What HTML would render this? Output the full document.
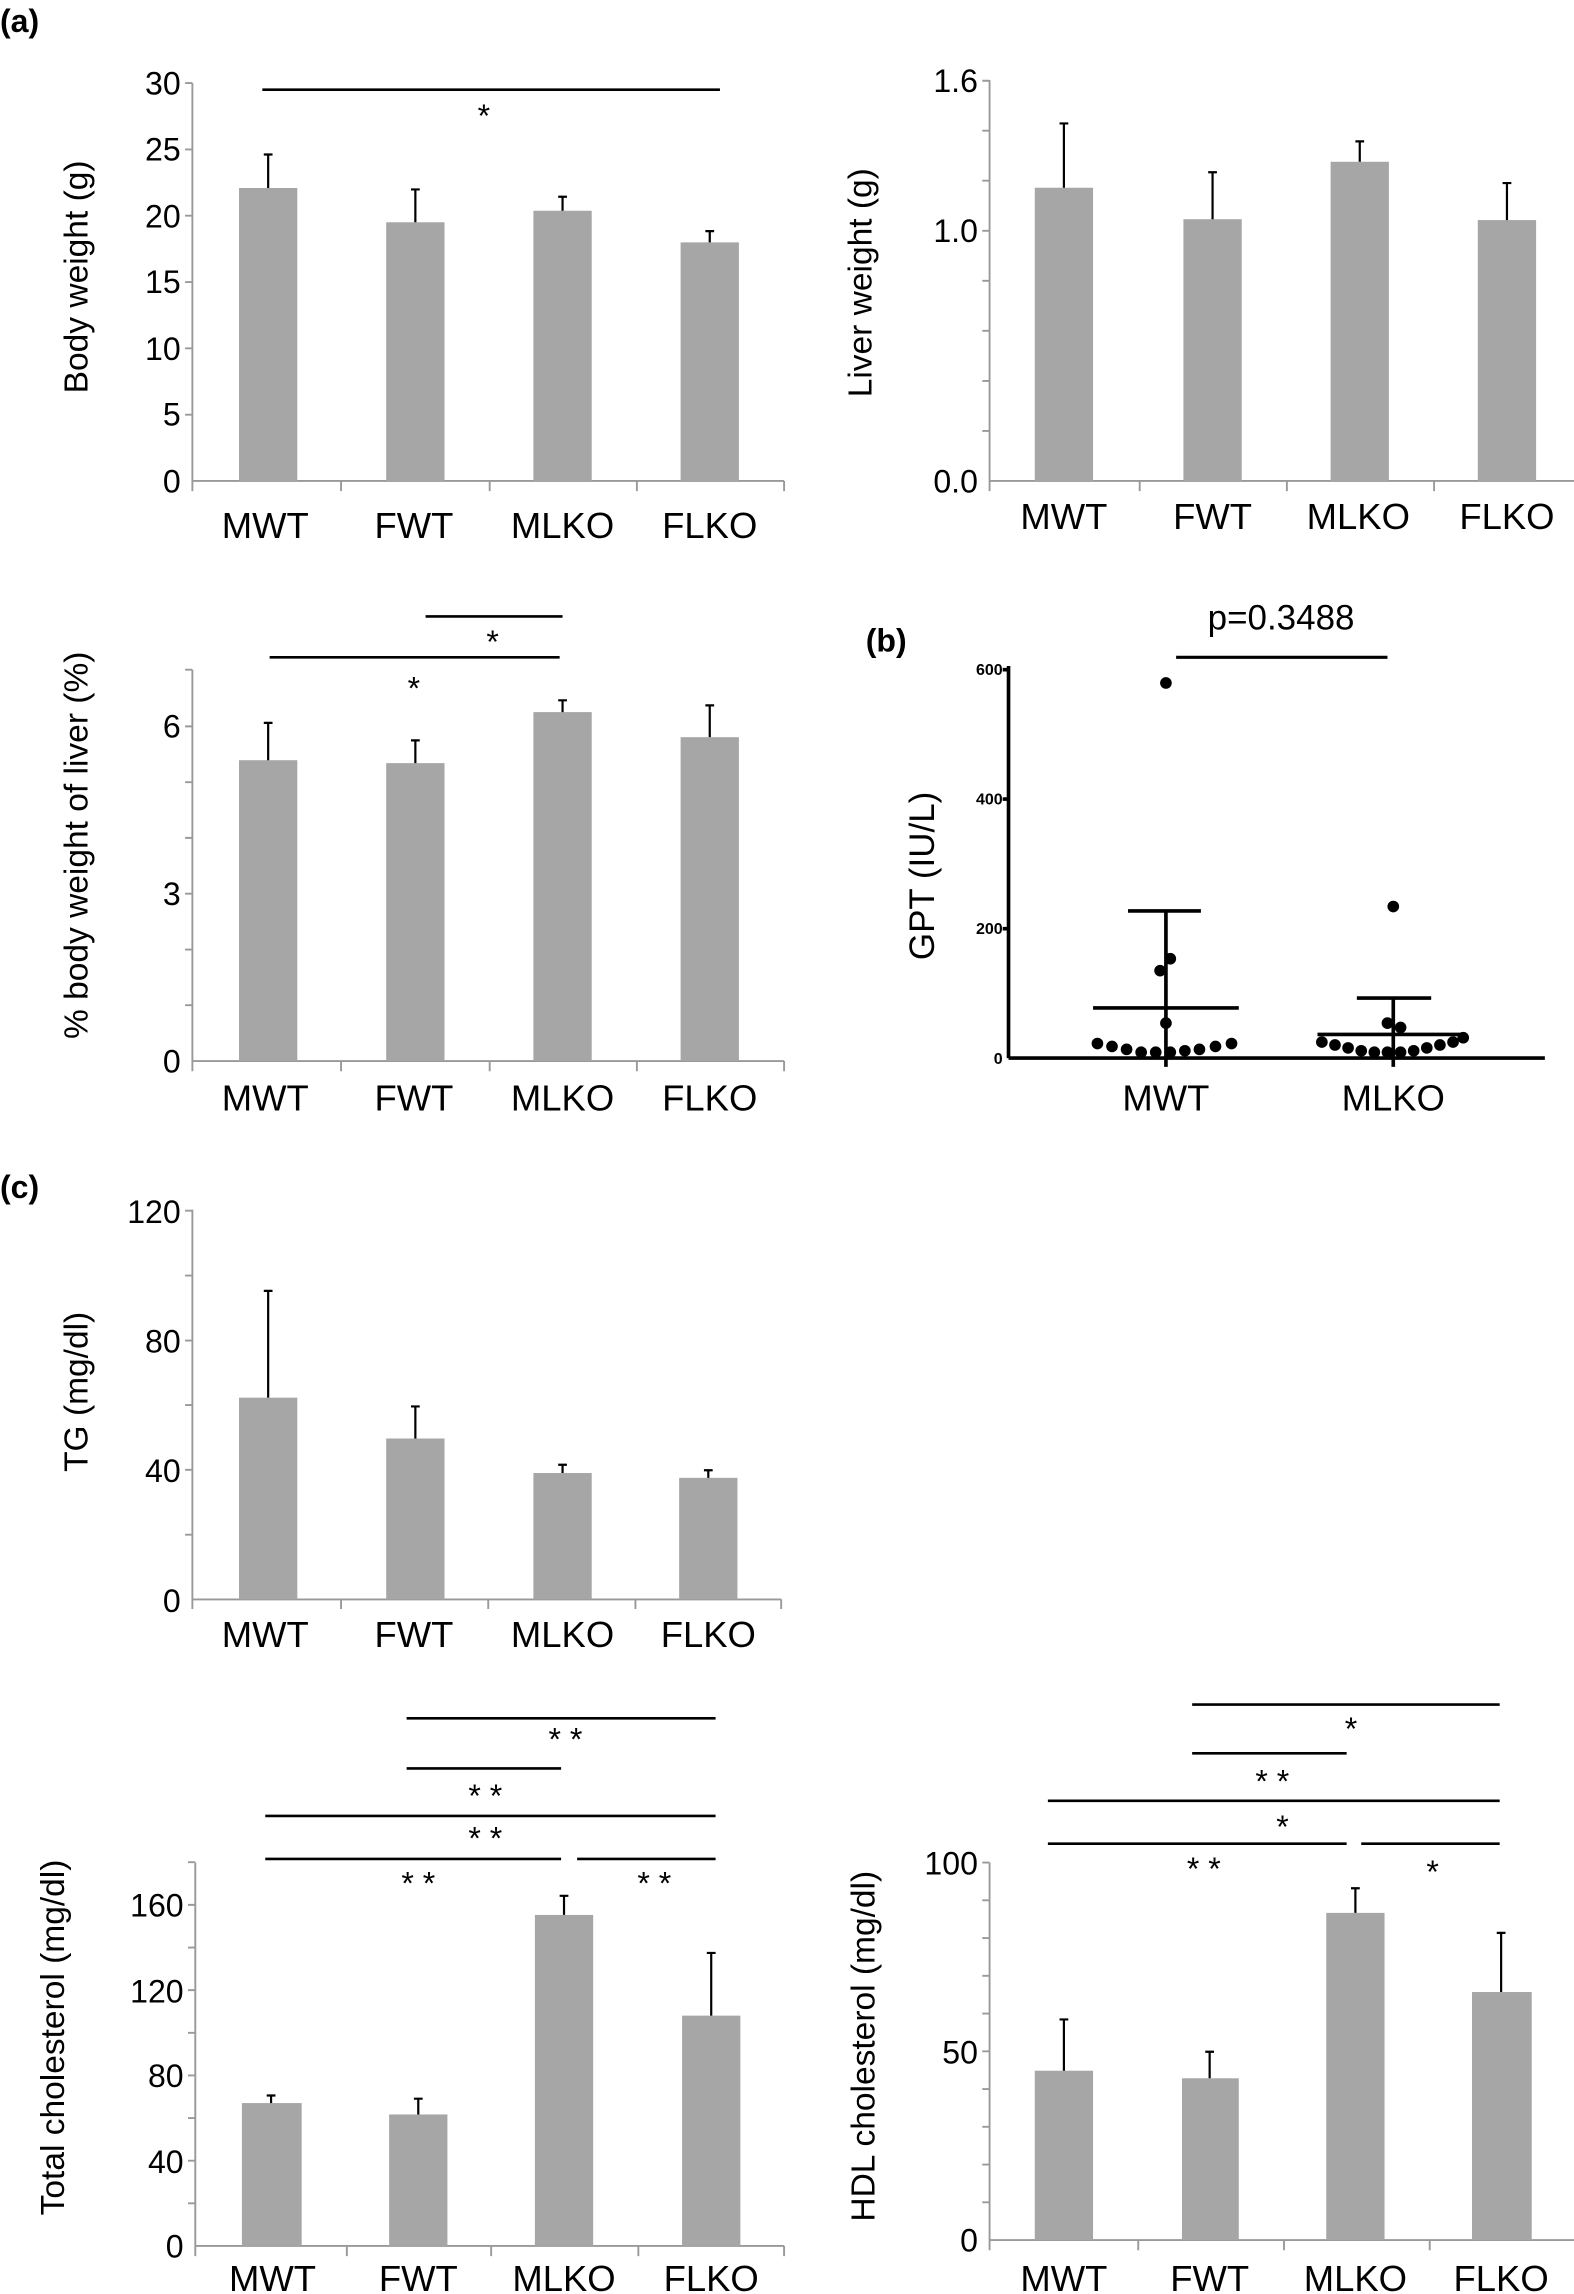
<!DOCTYPE html>
<html><head><meta charset="utf-8"><style>
html,body{margin:0;padding:0;background:#fff;overflow:hidden;}
svg{display:block;}
text{font-family:"Liberation Sans",Arial,sans-serif;fill:#000;}
.ax{stroke:#999;stroke-width:1.3;fill:none;}
.bar{fill:#a6a6a6;}
.e{stroke:#000;stroke-width:1.5;fill:none;}
.s{stroke:#000;stroke-width:1.8;}
.tl{font-size:22px;text-anchor:end;}
.xl{font-size:25px;text-anchor:middle;}
.yl{font-size:23px;text-anchor:middle;}
.st{font-size:22px;text-anchor:middle;}
</style></head><body>
<svg width="1574" height="2294" viewBox="0 0 1080 1574" preserveAspectRatio="none" xmlns="http://www.w3.org/2000/svg">
<rect width="1080" height="1574" fill="#fff"/>
<text x="0" y="22" style="font-size:22px;font-weight:bold">(a)</text>

<!-- Body weight -->
<g>
<path class="ax" d="M132 57V330M127 57H132M127 102.5H132M127 148H132M127 193.5H132M127 239H132M127 284.5H132M132 330H538M132 330V337M234 330V337M336 330V337M437 330V337M538 330V337"/>
<text class="tl" x="124" y="65">30</text><text class="tl" x="124" y="110">25</text><text class="tl" x="124" y="156">20</text><text class="tl" x="124" y="201">15</text><text class="tl" x="124" y="247">10</text><text class="tl" x="124" y="292">5</text><text class="tl" x="124" y="338">0</text>
<rect class="bar" x="164" y="129" width="40" height="201"/><path class="e" d="M184 129V106M181 106H187"/>
<rect class="bar" x="265" y="152.5" width="40" height="177.5"/><path class="e" d="M285 152.5V130M282 130H288"/>
<rect class="bar" x="366" y="144.6" width="40" height="185.4"/><path class="e" d="M386 144.6V135M383 135H389"/>
<rect class="bar" x="467" y="166.3" width="40" height="163.7"/><path class="e" d="M487 166.3V158.6M484 158.6H490"/>
<text class="xl" x="182" y="369">MWT</text><text class="xl" x="284" y="369">FWT</text><text class="xl" x="386" y="369">MLKO</text><text class="xl" x="487" y="369">FLKO</text>
<text class="yl" transform="translate(60,190) rotate(-90)">Body weight (g)</text>
<line class="s" x1="180" y1="61.5" x2="494" y2="61.5"/><text class="st" x="332" y="87">*</text>
</g>

<!-- Liver weight -->
<g>
<path class="ax" d="M679 55V330M674 55.4H679M674 89.7H679M674 124H679M674 158.4H679M674 192.7H679M674 227H679M674 261.4H679M674 295.7H679M679 330H1083M679 330V337M782 330V337M883 330V337M984 330V337M1083 330V337"/>
<text class="tl" x="671" y="63">1.6</text><text class="tl" x="671" y="166">1.0</text><text class="tl" x="671" y="338">0.0</text>
<rect class="bar" x="710" y="128.8" width="40" height="201.2"/><path class="e" d="M730 128.8V84.7M727 84.7H733"/>
<rect class="bar" x="812" y="150.4" width="40" height="179.6"/><path class="e" d="M832 150.4V118.2M829 118.2H835"/>
<rect class="bar" x="913" y="111" width="40" height="219"/><path class="e" d="M933 111V97M930 97H936"/>
<rect class="bar" x="1014" y="151" width="40" height="179"/><path class="e" d="M1034 151V125.6M1031 125.6H1037"/>
<text class="xl" x="730" y="363">MWT</text><text class="xl" x="832" y="363">FWT</text><text class="xl" x="932" y="363">MLKO</text><text class="xl" x="1034" y="363">FLKO</text>
<text class="yl" transform="translate(598,194) rotate(-90)">Liver weight (g)</text>
</g>

<!-- % body weight -->
<g>
<path class="ax" d="M132 459.5V728M127 459.5H132M127 498.4H132M127 536.7H132M127 574.9H132M127 613.2H132M127 651.5H132M127 689.7H132M132 728H538M132 728V735M234 728V735M336 728V735M437 728V735M538 728V735"/>
<text class="tl" x="124" y="506">6</text><text class="tl" x="124" y="621">3</text><text class="tl" x="124" y="736">0</text>
<rect class="bar" x="164" y="521.6" width="40" height="206.4"/><path class="e" d="M184 521.6V496M181 496H187"/>
<rect class="bar" x="265" y="523.6" width="40" height="204.4"/><path class="e" d="M285 523.6V508M282 508H288"/>
<rect class="bar" x="366" y="488.6" width="40" height="239.4"/><path class="e" d="M386 488.6V480.5M383 480.5H389"/>
<rect class="bar" x="467" y="505.8" width="40" height="222.2"/><path class="e" d="M487 505.8V484M484 484H490"/>
<text class="xl" x="182" y="762">MWT</text><text class="xl" x="284" y="762">FWT</text><text class="xl" x="386" y="762">MLKO</text><text class="xl" x="487" y="762">FLKO</text>
<text class="yl" transform="translate(60,580) rotate(-90)">% body weight of liver (%)</text>
<line class="s" x1="292" y1="423" x2="386" y2="423"/><text class="st" x="338" y="448">*</text>
<line class="s" x1="185" y1="451" x2="384" y2="451"/><text class="st" x="284" y="480">*</text>
</g>

<!-- (b) GPT -->
<g>
<text x="594" y="447" style="font-size:22px;font-weight:bold">(b)</text>
<text x="879" y="432" style="font-size:24px;text-anchor:middle">p=0.3488</text>
<line x1="807" y1="451" x2="952" y2="451" stroke="#000" stroke-width="2.2"/>
<path d="M692 457V726M688 459.5H692M688 548.3H692M688 637.2H692M692 726H1060" stroke="#000" stroke-width="2.5" fill="none"/>
<path d="M800 726V732M956 726V732" stroke="#000" stroke-width="2.5"/>
<g style="font-size:11px;font-weight:bold;text-anchor:end">
<text x="688" y="463">600</text><text x="688" y="552">400</text><text x="688" y="641">200</text><text x="688" y="730">0</text></g>
<text class="yl" transform="translate(641,601) rotate(-90)" style="font-size:24px">GPT (IU/L)</text>
<path d="M800 726V625M774 625H824M750 691.6H850" stroke="#000" stroke-width="2.5" fill="none"/>
<path d="M956 726V684.8M931 684.8H982M904 709.8H1004" stroke="#000" stroke-width="2.5" fill="none"/>
<g fill="#000">
<circle cx="753" cy="716" r="4"/><circle cx="763" cy="718" r="4"/><circle cx="773" cy="720" r="4"/><circle cx="783" cy="722" r="4"/><circle cx="793" cy="722" r="4"/><circle cx="803" cy="722" r="4"/><circle cx="813" cy="721" r="4"/><circle cx="823" cy="720" r="4"/><circle cx="834" cy="718" r="4"/><circle cx="845" cy="716" r="4"/>
<circle cx="800" cy="468.6" r="4"/><circle cx="803" cy="657.8" r="4"/><circle cx="796" cy="666" r="4"/><circle cx="800" cy="702" r="4"/>
<circle cx="907" cy="715" r="4"/><circle cx="916" cy="717" r="4"/><circle cx="925" cy="719" r="4"/><circle cx="934" cy="721" r="4"/><circle cx="943" cy="722" r="4"/><circle cx="952" cy="722" r="4"/><circle cx="961" cy="722" r="4"/><circle cx="970" cy="721" r="4"/><circle cx="979" cy="719" r="4"/><circle cx="988" cy="717" r="4"/><circle cx="997" cy="715" r="4"/><circle cx="1004" cy="712" r="4"/>
<circle cx="956" cy="622" r="4"/><circle cx="952" cy="702" r="4"/><circle cx="961" cy="705" r="4"/>
</g>
<text class="xl" x="800" y="762">MWT</text><text class="xl" x="956" y="762">MLKO</text>
</g>

<!-- (c) TG -->
<text x="0" y="822" style="font-size:22px;font-weight:bold">(c)</text>
<g>
<path class="ax" d="M132 830V1097.4M127 830.7H132M127 875.2H132M127 919.8H132M127 964.1H132M127 1008.5H132M127 1053H132M132 1097.4H536M132 1097.4V1104M234 1097.4V1104M335 1097.4V1104M436 1097.4V1104M536 1097.4V1104"/>
<text class="tl" x="124" y="839">120</text><text class="tl" x="124" y="928">80</text><text class="tl" x="124" y="1017">40</text><text class="tl" x="124" y="1106">0</text>
<rect class="bar" x="164" y="959" width="40" height="138.4"/><path class="e" d="M184 959V885.7M181 885.7H187"/>
<rect class="bar" x="265" y="987" width="40" height="110.4"/><path class="e" d="M285 987V965M282 965H288"/>
<rect class="bar" x="366" y="1010.7" width="40" height="86.7"/><path class="e" d="M386 1010.7V1005M383 1005H389"/>
<rect class="bar" x="466" y="1014" width="40" height="83.4"/><path class="e" d="M486 1014V1008.8M483 1008.8H489"/>
<text class="xl" x="182" y="1130">MWT</text><text class="xl" x="284" y="1130">FWT</text><text class="xl" x="386" y="1130">MLKO</text><text class="xl" x="486" y="1130">FLKO</text>
<text class="yl" transform="translate(60,955) rotate(-90)">TG (mg/dl)</text>
</g>

<!-- Total cholesterol -->
<g>
<path class="ax" d="M134 1278V1541M129 1277.7H134M129 1307H134M129 1336.3H134M129 1365.5H134M129 1394.8H134M129 1424H134M129 1453.3H134M129 1482.5H134M129 1511.8H134M134 1541H538M134 1541V1548M238 1541V1548M337 1541V1548M438 1541V1548M538 1541V1548"/>
<text class="tl" x="126" y="1315">160</text><text class="tl" x="126" y="1374">120</text><text class="tl" x="126" y="1432">80</text><text class="tl" x="126" y="1491">40</text><text class="tl" x="126" y="1549">0</text>
<rect class="bar" x="166" y="1443" width="41" height="98"/><path class="e" d="M186 1443V1437.8M183 1437.8H189"/>
<rect class="bar" x="267" y="1450.8" width="40" height="90.2"/><path class="e" d="M287 1450.8V1440M284 1440H290"/>
<rect class="bar" x="367" y="1313.9" width="40" height="227.1"/><path class="e" d="M387 1313.9V1300.8M384 1300.8H390"/>
<rect class="bar" x="468" y="1383" width="40" height="158"/><path class="e" d="M488 1383V1340M485 1340H491"/>
<text class="xl" x="187" y="1572">MWT</text><text class="xl" x="287" y="1572">FWT</text><text class="xl" x="387" y="1572">MLKO</text><text class="xl" x="488" y="1572">FLKO</text>
<text class="yl" transform="translate(44,1398) rotate(-90)">Total cholesterol (mg/dl)</text>
<line class="s" x1="279" y1="1179" x2="491" y2="1179"/><text class="st" x="388" y="1201">* *</text>
<line class="s" x1="279" y1="1213.4" x2="385" y2="1213.4"/><text class="st" x="333" y="1240">* *</text>
<line class="s" x1="182" y1="1246" x2="491" y2="1246"/><text class="st" x="333" y="1269">* *</text>
<line class="s" x1="182" y1="1275.5" x2="385" y2="1275.5"/><line class="s" x1="396" y1="1275.5" x2="491" y2="1275.5"/>
<text class="st" x="287" y="1300">* *</text><text class="st" x="449" y="1300">* *</text>
</g>

<!-- HDL -->
<g>
<path class="ax" d="M679 1278V1537M674 1278H679M674 1303.9H679M674 1329.8H679M674 1355.7H679M674 1381.6H679M674 1407.5H679M674 1433.4H679M674 1459.3H679M674 1485.2H679M674 1511.1H679M679 1537H1081M679 1537V1544M781 1537V1544M881 1537V1544M981 1537V1544M1081 1537V1544"/>
<text class="tl" x="671" y="1286">100</text><text class="tl" x="671" y="1416">50</text><text class="tl" x="671" y="1545">0</text>
<rect class="bar" x="710" y="1420.8" width="40" height="116.2"/><path class="e" d="M730 1420.8V1385.6M727 1385.6H733"/>
<rect class="bar" x="811" y="1426" width="39" height="111"/><path class="e" d="M830 1426V1407.8M827 1407.8H833"/>
<rect class="bar" x="910" y="1312.5" width="40" height="224.5"/><path class="e" d="M930 1312.5V1295.6M927 1295.6H933"/>
<rect class="bar" x="1010" y="1366.8" width="41" height="170.2"/><path class="e" d="M1030 1366.8V1326.2M1027 1326.2H1033"/>
<text class="xl" x="730" y="1572">MWT</text><text class="xl" x="830" y="1572">FWT</text><text class="xl" x="930" y="1572">MLKO</text><text class="xl" x="1030" y="1572">FLKO</text>
<text class="yl" transform="translate(600,1404) rotate(-90)">HDL cholesterol (mg/dl)</text>
<line class="s" x1="818" y1="1169.6" x2="1029" y2="1169.6"/><text class="st" x="927" y="1194">*</text>
<line class="s" x1="818" y1="1203" x2="924" y2="1203"/><text class="st" x="873" y="1230">* *</text>
<line class="s" x1="719" y1="1235.6" x2="1029" y2="1235.6"/><text class="st" x="880" y="1261">*</text>
<line class="s" x1="719" y1="1265" x2="924" y2="1265"/><line class="s" x1="934" y1="1265" x2="1029" y2="1265"/>
<text class="st" x="826" y="1290">* *</text><text class="st" x="983" y="1292">*</text>
</g>
</svg>
</body></html>
